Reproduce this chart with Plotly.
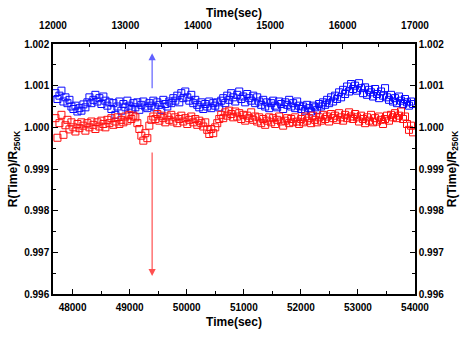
import numpy as np
import plotly.graph_objects as go

# sampling times (s), bottom axis
t_start, t_step, n_pts = 47700, 35, 180
time_s = np.arange(n_pts) * t_step + t_start

# deviations from 1 in units of 1e-5
blue_dev = [82, 68, 76, 88, 62, 72, 58, 66, 50, 44,
            52, 38, 46, 40, 55, 48, 60, 72, 58, 66,
            78, 62, 70, 56, 74, 64, 52, 60, 44, 58,
            30, 50, 62, 40, 56, 48, 64, 52, 44, 58,
            48, 60, 42, 54, 62, 50, 46, 58, 52, 64,
            48, 60, 54, 42, 66, 56, 50, 62, 58, 70,
            64, 76, 60, 82, 70, 86, 72, 64, 78, 58,
            66, 54, 48, 60, 44, 56, 50, 62, 46, 58,
            52, 60, 48, 64, 70, 58, 76, 66, 82, 72,
            62, 78, 86, 68, 74, 60, 80, 70, 64, 76,
            58, 72, 62, 54, 66, 50, 60, 46, 58, 64,
            52, 48, 62, 56, 44, 60, 54, 66, 50, 58,
            46, 62, 52, 44, 50, 40, 54, 46, 38, 52,
            48, 42, 56, 50, 60, 54, 66, 58, 72, 62,
            76, 68, 84, 72, 90, 80, 98, 86, 104, 92,
            100, 88, 106, 94, 82, 96, 78, 90, 84, 74,
            92, 80, 70, 86, 76, 94, 72, 66, 78, 62,
            70, 58, 74, 64, 56, 68, 60, 52, 62, 56]
red_dev = [22, -25, 10, 30, -18, 5, 18, -5, 12, 0,
           -10, 8, -2, 12, 4, -8, 10, 0, 14, 6,
           -4, 12, 2, 16, 8, 0, 18, 10, 22, 6,
           14, 24, 8, 18, 12, 26, 16, 30, 20, 28,
           24, 10, -4, -20, -32, -14, -26, 4, 18, 26,
           20, 32, 16, 28, 22, 12, 26, 18, 30, 14,
           24, 10, 20, 28, 14, 22, 8, 18, 26, 12,
           20, 6, 16, 10, 2, 12, -6, -16, -4, -14,
           0, 10, 20, 30, 22, 36, 28, 40, 32, 24,
           38, 26, 34, 20, 30, 16, 28, 22, 36, 18,
           26, 14, 24, 10, 20, 6, 16, 24, 12, 22,
           8, 18, 26, 14, 4, 16, 22, 10, 20, 12,
           24, 14, 8, 20, 12, 26, 16, 22, 10, 28,
           18, 12, 24, 16, 30, 20, 26, 14, 32, 22,
           28, 18, 34, 24, 16, 30, 22, 36, 26, 20,
           32, 24, 14, 28, 20, 10, 24, 16, 30, 12,
           22, 14, 26, 18, 8, 20, 28, 16, 30, 24,
           34, 22, 28, 38, 20, 26, 8, -6, 4, -12]
blue_vals = 1 + np.array(blue_dev) * 1e-5
red_vals = 1 + np.array(red_dev) * 1e-5

x_range = [47657, 54000]
x_top_range = [12000, 17000]
y_range = [0.996, 1.002]

# arrows (time, tail value, head value)
arrow_t = 49394
blue_arrow = (1.00090, 1.00178)
red_arrow = (0.99943, 0.99643)

font_fam = "Liberation Sans, Arial, sans-serif"
tickfont = dict(family=font_fam, size=10, color="black", weight="bold")
titlefont = dict(family=font_fam, size=12, color="black", weight="bold")

fig = go.Figure()
fig.add_trace(go.Scatter(x=time_s, y=blue_vals, mode="markers",
                         marker=dict(symbol="square-open", size=7, color="#0a0aff",
                                     line=dict(width=1)), showlegend=False))
fig.add_trace(go.Scatter(x=time_s, y=red_vals, mode="markers",
                         marker=dict(symbol="square-open", size=7, color="#ff1010",
                                     line=dict(width=1)), showlegend=False))
fig.add_trace(go.Scatter(x=[None], y=[None], xaxis="x2", yaxis="y2",
                         mode="markers", showlegend=False, hoverinfo="skip"))

common = dict(showline=True, linecolor="black", linewidth=1.5, ticks="inside",
              ticklen=5, tickwidth=1.2, tickcolor="black", showgrid=False,
              zeroline=False, tickfont=tickfont)

fig.update_layout(
    width=472, height=339,
    margin=dict(l=51, r=57, t=33, b=39),
    plot_bgcolor="white", paper_bgcolor="white",
    xaxis=dict(range=x_range, dtick=1000, tick0=48000, tickformat="d",
               ticklabelstandoff=3,
               minor=dict(ticks="inside", dtick=500, ticklen=3, tickcolor="black"),
               title=dict(text="Time(sec)", font=titlefont, standoff=6), **common),
    xaxis2=dict(range=x_top_range, dtick=1000, tick0=12000, tickformat="d",
                overlaying="x", side="top", ticklabelstandoff=9,
                minor=dict(ticks="inside", dtick=500, ticklen=3, tickcolor="black"),
                title=dict(text="Time(sec)", font=titlefont, standoff=0), **common),
    yaxis=dict(range=y_range, dtick=0.001, tick0=0.996, tickformat=".3f",
               minor=dict(ticks="inside", dtick=0.0005, ticklen=3, tickcolor="black"),
               title=dict(text="R(Time)/R<sub>250K</sub>", font=titlefont, standoff=4),
               **common),
    yaxis2=dict(range=y_range, dtick=0.001, tick0=0.996, tickformat=".3f",
                overlaying="y", side="right",
                minor=dict(ticks="inside", dtick=0.0005, ticklen=3, tickcolor="black"),
                title=dict(text="R(Time)/R<sub>250K</sub>", font=titlefont, standoff=4),
                **common),
)

fig.add_annotation(x=arrow_t, y=blue_arrow[1], ax=arrow_t, ay=blue_arrow[0],
                   xref="x", yref="y", axref="x", ayref="y", text="",
                   showarrow=True, arrowhead=2, arrowsize=1.2, arrowwidth=1.2,
                   arrowcolor="#6060ff")
fig.add_annotation(x=arrow_t, y=red_arrow[1], ax=arrow_t, ay=red_arrow[0],
                   xref="x", yref="y", axref="x", ayref="y", text="",
                   showarrow=True, arrowhead=2, arrowsize=1.2, arrowwidth=1.2,
                   arrowcolor="#ff5050")

fig.write_html("out.html")
